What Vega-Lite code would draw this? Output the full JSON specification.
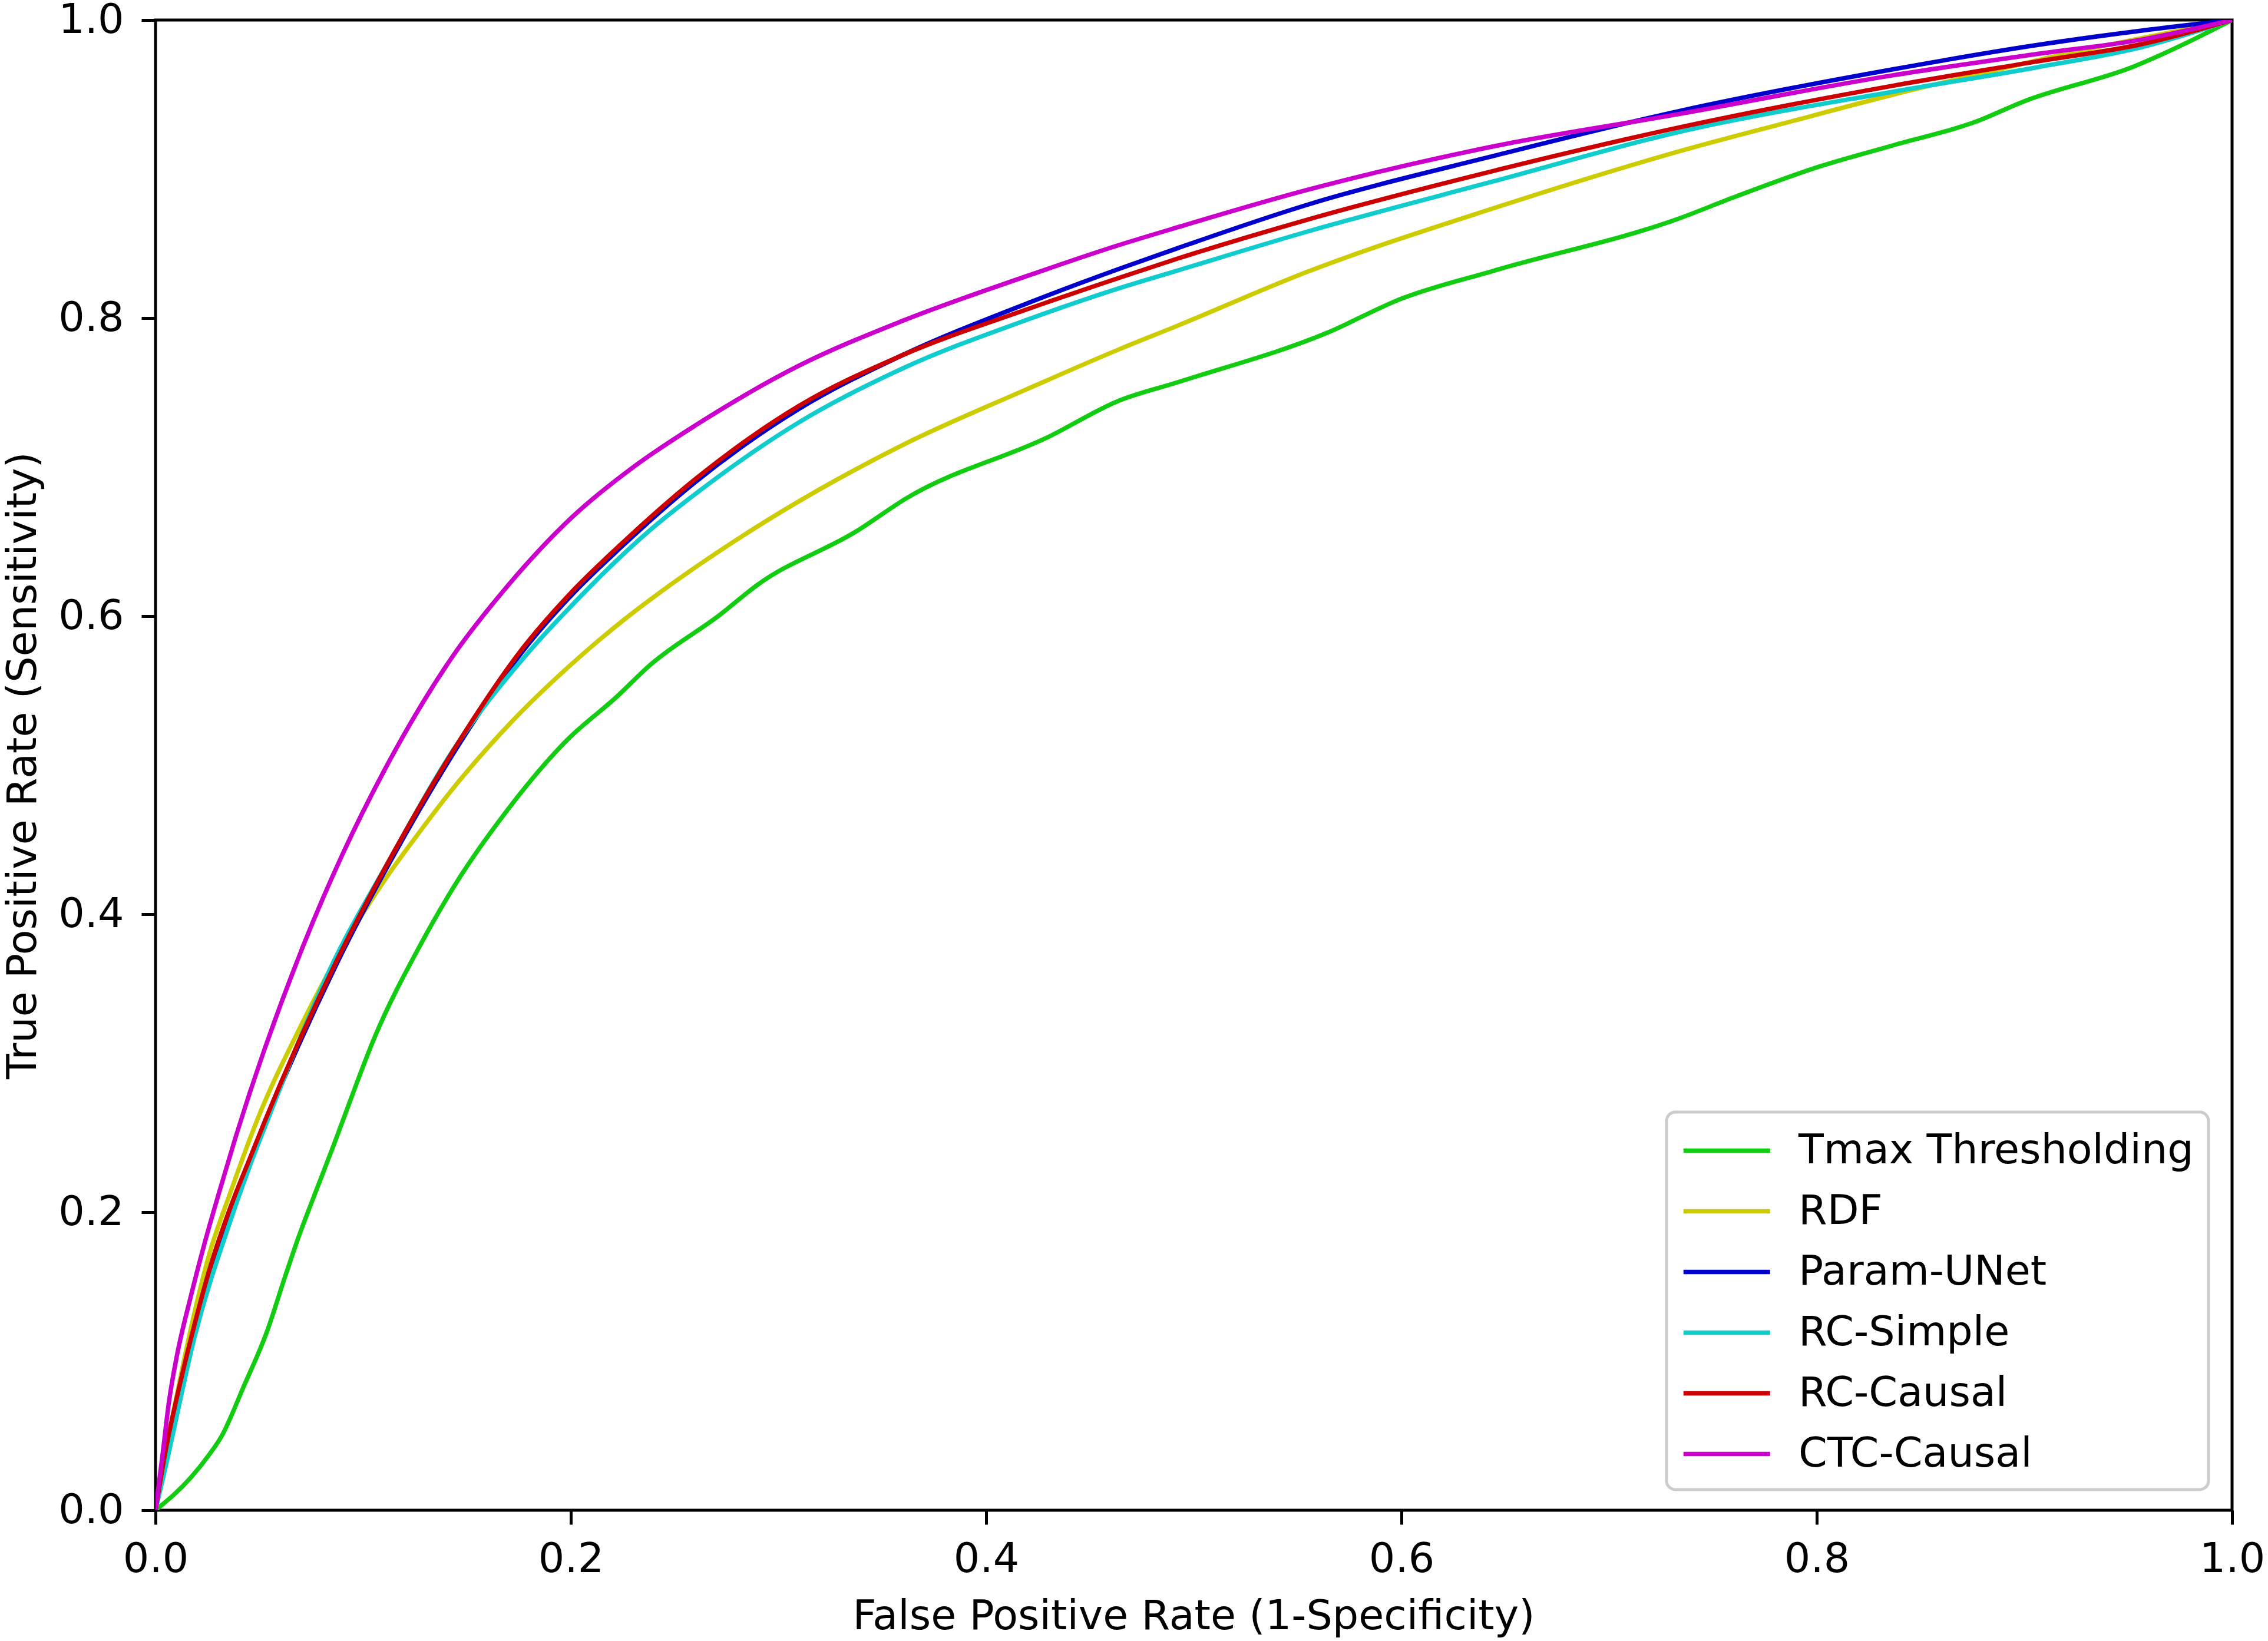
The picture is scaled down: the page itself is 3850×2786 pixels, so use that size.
{
  "$schema": "https://vega.github.io/schema/vega-lite/v6.json",
  "width": 3525,
  "height": 2530,
  "autosize": {"type": "none"},
  "padding": {"left": 264, "top": 34, "right": 61, "bottom": 222},
  "background": "white",
  "config": {
    "view": {"stroke": "black", "strokeWidth": 5},
    "font": "DejaVu Sans",
    "axis": {
      "grid": false,
      "domain": false,
      "tickColor": "black",
      "tickWidth": 5,
      "tickSize": 24,
      "labelFont": "DejaVu Sans",
      "labelFontSize": 70,
      "labelColor": "black",
      "labelFlush": false,
      "labelOverlap": false,
      "titleFont": "DejaVu Sans",
      "titleFontSize": 70,
      "titleFontWeight": "normal",
      "titleColor": "black"
    }
  },
  "data": {
    "values": [
      {"model": "Tmax Thresholding", "fpr": 0, "tpr": 0},
      {"model": "Tmax Thresholding", "fpr": 0.0168, "tpr": 0.0216},
      {"model": "Tmax Thresholding", "fpr": 0.0253, "tpr": 0.0363},
      {"model": "Tmax Thresholding", "fpr": 0.0319, "tpr": 0.0499},
      {"model": "Tmax Thresholding", "fpr": 0.0423, "tpr": 0.0825},
      {"model": "Tmax Thresholding", "fpr": 0.0537, "tpr": 0.12},
      {"model": "Tmax Thresholding", "fpr": 0.0622, "tpr": 0.156},
      {"model": "Tmax Thresholding", "fpr": 0.0688, "tpr": 0.183},
      {"model": "Tmax Thresholding", "fpr": 0.0764, "tpr": 0.211},
      {"model": "Tmax Thresholding", "fpr": 0.0858, "tpr": 0.245},
      {"model": "Tmax Thresholding", "fpr": 0.0906, "tpr": 0.263},
      {"model": "Tmax Thresholding", "fpr": 0.1057, "tpr": 0.318},
      {"model": "Tmax Thresholding", "fpr": 0.1274, "tpr": 0.379},
      {"model": "Tmax Thresholding", "fpr": 0.1462, "tpr": 0.424},
      {"model": "Tmax Thresholding", "fpr": 0.1679, "tpr": 0.467},
      {"model": "Tmax Thresholding", "fpr": 0.1983, "tpr": 0.517},
      {"model": "Tmax Thresholding", "fpr": 0.2222, "tpr": 0.546},
      {"model": "Tmax Thresholding", "fpr": 0.238, "tpr": 0.567},
      {"model": "Tmax Thresholding", "fpr": 0.2719, "tpr": 0.601},
      {"model": "Tmax Thresholding", "fpr": 0.2899, "tpr": 0.621},
      {"model": "Tmax Thresholding", "fpr": 0.3376, "tpr": 0.657},
      {"model": "Tmax Thresholding", "fpr": 0.3615, "tpr": 0.679},
      {"model": "Tmax Thresholding", "fpr": 0.4311, "tpr": 0.721},
      {"model": "Tmax Thresholding", "fpr": 0.463, "tpr": 0.744},
      {"model": "Tmax Thresholding", "fpr": 0.4924, "tpr": 0.757},
      {"model": "Tmax Thresholding", "fpr": 0.564, "tpr": 0.79},
      {"model": "Tmax Thresholding", "fpr": 0.6, "tpr": 0.813},
      {"model": "Tmax Thresholding", "fpr": 0.645, "tpr": 0.832},
      {"model": "Tmax Thresholding", "fpr": 0.734, "tpr": 0.867},
      {"model": "Tmax Thresholding", "fpr": 0.76, "tpr": 0.881},
      {"model": "Tmax Thresholding", "fpr": 0.802, "tpr": 0.902},
      {"model": "Tmax Thresholding", "fpr": 0.837, "tpr": 0.916},
      {"model": "Tmax Thresholding", "fpr": 0.877, "tpr": 0.932},
      {"model": "Tmax Thresholding", "fpr": 0.899, "tpr": 0.945},
      {"model": "Tmax Thresholding", "fpr": 0.953, "tpr": 0.969},
      {"model": "Tmax Thresholding", "fpr": 1, "tpr": 1},

      {"model": "RDF", "fpr": 0, "tpr": 0},
      {"model": "RDF", "fpr": 0.005, "tpr": 0.04},
      {"model": "RDF", "fpr": 0.0114, "tpr": 0.085},
      {"model": "RDF", "fpr": 0.018, "tpr": 0.128},
      {"model": "RDF", "fpr": 0.0255, "tpr": 0.17},
      {"model": "RDF", "fpr": 0.036, "tpr": 0.213},
      {"model": "RDF", "fpr": 0.049, "tpr": 0.262},
      {"model": "RDF", "fpr": 0.07, "tpr": 0.325},
      {"model": "RDF", "fpr": 0.091, "tpr": 0.38},
      {"model": "RDF", "fpr": 0.1129, "tpr": 0.428},
      {"model": "RDF", "fpr": 0.126, "tpr": 0.453},
      {"model": "RDF", "fpr": 0.1419, "tpr": 0.482},
      {"model": "RDF", "fpr": 0.1667, "tpr": 0.522},
      {"model": "RDF", "fpr": 0.207, "tpr": 0.576},
      {"model": "RDF", "fpr": 0.226, "tpr": 0.598},
      {"model": "RDF", "fpr": 0.25, "tpr": 0.623},
      {"model": "RDF", "fpr": 0.284, "tpr": 0.655},
      {"model": "RDF", "fpr": 0.3595, "tpr": 0.7146},
      {"model": "RDF", "fpr": 0.4192, "tpr": 0.752},
      {"model": "RDF", "fpr": 0.464, "tpr": 0.779},
      {"model": "RDF", "fpr": 0.4924, "tpr": 0.795},
      {"model": "RDF", "fpr": 0.5546, "tpr": 0.831},
      {"model": "RDF", "fpr": 0.645, "tpr": 0.874},
      {"model": "RDF", "fpr": 0.734, "tpr": 0.912},
      {"model": "RDF", "fpr": 0.785, "tpr": 0.931},
      {"model": "RDF", "fpr": 0.837, "tpr": 0.95},
      {"model": "RDF", "fpr": 0.888, "tpr": 0.967},
      {"model": "RDF", "fpr": 0.922, "tpr": 0.978},
      {"model": "RDF", "fpr": 0.957, "tpr": 0.988},
      {"model": "RDF", "fpr": 1, "tpr": 1},

      {"model": "Param-UNet", "fpr": 0, "tpr": 0},
      {"model": "Param-UNet", "fpr": 0.0048, "tpr": 0.038},
      {"model": "Param-UNet", "fpr": 0.0114, "tpr": 0.081},
      {"model": "Param-UNet", "fpr": 0.0189, "tpr": 0.124},
      {"model": "Param-UNet", "fpr": 0.0265, "tpr": 0.162},
      {"model": "Param-UNet", "fpr": 0.036, "tpr": 0.201},
      {"model": "Param-UNet", "fpr": 0.0454, "tpr": 0.234},
      {"model": "Param-UNet", "fpr": 0.0529, "tpr": 0.26},
      {"model": "Param-UNet", "fpr": 0.087, "tpr": 0.366},
      {"model": "Param-UNet", "fpr": 0.1129, "tpr": 0.435},
      {"model": "Param-UNet", "fpr": 0.1462, "tpr": 0.514},
      {"model": "Param-UNet", "fpr": 0.1766, "tpr": 0.576},
      {"model": "Param-UNet", "fpr": 0.2003, "tpr": 0.614},
      {"model": "Param-UNet", "fpr": 0.224, "tpr": 0.646},
      {"model": "Param-UNet", "fpr": 0.26, "tpr": 0.69},
      {"model": "Param-UNet", "fpr": 0.3098, "tpr": 0.739},
      {"model": "Param-UNet", "fpr": 0.3595, "tpr": 0.775},
      {"model": "Param-UNet", "fpr": 0.42, "tpr": 0.81},
      {"model": "Param-UNet", "fpr": 0.464, "tpr": 0.833},
      {"model": "Param-UNet", "fpr": 0.4924, "tpr": 0.847},
      {"model": "Param-UNet", "fpr": 0.5546, "tpr": 0.876},
      {"model": "Param-UNet", "fpr": 0.645, "tpr": 0.909},
      {"model": "Param-UNet", "fpr": 0.734, "tpr": 0.939},
      {"model": "Param-UNet", "fpr": 0.837, "tpr": 0.967},
      {"model": "Param-UNet", "fpr": 0.905, "tpr": 0.983},
      {"model": "Param-UNet", "fpr": 0.957, "tpr": 0.993},
      {"model": "Param-UNet", "fpr": 1, "tpr": 1},

      {"model": "RC-Simple", "fpr": 0, "tpr": 0},
      {"model": "RC-Simple", "fpr": 0.005, "tpr": 0.03},
      {"model": "RC-Simple", "fpr": 0.0189, "tpr": 0.1168},
      {"model": "RC-Simple", "fpr": 0.036, "tpr": 0.194},
      {"model": "RC-Simple", "fpr": 0.0454, "tpr": 0.231},
      {"model": "RC-Simple", "fpr": 0.0529, "tpr": 0.258},
      {"model": "RC-Simple", "fpr": 0.084, "tpr": 0.363},
      {"model": "RC-Simple", "fpr": 0.1129, "tpr": 0.437},
      {"model": "RC-Simple", "fpr": 0.1419, "tpr": 0.507},
      {"model": "RC-Simple", "fpr": 0.1804, "tpr": 0.577},
      {"model": "RC-Simple", "fpr": 0.2003, "tpr": 0.607},
      {"model": "RC-Simple", "fpr": 0.2401, "tpr": 0.66},
      {"model": "RC-Simple", "fpr": 0.26, "tpr": 0.682},
      {"model": "RC-Simple", "fpr": 0.3098, "tpr": 0.73},
      {"model": "RC-Simple", "fpr": 0.3595, "tpr": 0.766},
      {"model": "RC-Simple", "fpr": 0.42, "tpr": 0.799},
      {"model": "RC-Simple", "fpr": 0.464, "tpr": 0.82},
      {"model": "RC-Simple", "fpr": 0.4924, "tpr": 0.832},
      {"model": "RC-Simple", "fpr": 0.5546, "tpr": 0.858},
      {"model": "RC-Simple", "fpr": 0.645, "tpr": 0.892},
      {"model": "RC-Simple", "fpr": 0.734, "tpr": 0.925},
      {"model": "RC-Simple", "fpr": 0.837, "tpr": 0.952},
      {"model": "RC-Simple", "fpr": 0.905, "tpr": 0.968},
      {"model": "RC-Simple", "fpr": 0.957, "tpr": 0.982},
      {"model": "RC-Simple", "fpr": 1, "tpr": 1},

      {"model": "RC-Causal", "fpr": 0, "tpr": 0},
      {"model": "RC-Causal", "fpr": 0.0048, "tpr": 0.0396},
      {"model": "RC-Causal", "fpr": 0.0114, "tpr": 0.0825},
      {"model": "RC-Causal", "fpr": 0.0189, "tpr": 0.1253},
      {"model": "RC-Causal", "fpr": 0.0265, "tpr": 0.164},
      {"model": "RC-Causal", "fpr": 0.036, "tpr": 0.203},
      {"model": "RC-Causal", "fpr": 0.0454, "tpr": 0.236},
      {"model": "RC-Causal", "fpr": 0.0529, "tpr": 0.262},
      {"model": "RC-Causal", "fpr": 0.087, "tpr": 0.368},
      {"model": "RC-Causal", "fpr": 0.1129, "tpr": 0.437},
      {"model": "RC-Causal", "fpr": 0.1462, "tpr": 0.516},
      {"model": "RC-Causal", "fpr": 0.1766, "tpr": 0.578},
      {"model": "RC-Causal", "fpr": 0.2003, "tpr": 0.616},
      {"model": "RC-Causal", "fpr": 0.224, "tpr": 0.648},
      {"model": "RC-Causal", "fpr": 0.26, "tpr": 0.692},
      {"model": "RC-Causal", "fpr": 0.3098, "tpr": 0.741},
      {"model": "RC-Causal", "fpr": 0.3595, "tpr": 0.775},
      {"model": "RC-Causal", "fpr": 0.42, "tpr": 0.806},
      {"model": "RC-Causal", "fpr": 0.464, "tpr": 0.827},
      {"model": "RC-Causal", "fpr": 0.4924, "tpr": 0.84},
      {"model": "RC-Causal", "fpr": 0.5546, "tpr": 0.866},
      {"model": "RC-Causal", "fpr": 0.645, "tpr": 0.899},
      {"model": "RC-Causal", "fpr": 0.734, "tpr": 0.928},
      {"model": "RC-Causal", "fpr": 0.837, "tpr": 0.956},
      {"model": "RC-Causal", "fpr": 0.905, "tpr": 0.972},
      {"model": "RC-Causal", "fpr": 0.957, "tpr": 0.984},
      {"model": "RC-Causal", "fpr": 1, "tpr": 1},

      {"model": "CTC-Causal", "fpr": 0, "tpr": 0},
      {"model": "CTC-Causal", "fpr": 0.0036, "tpr": 0.0396},
      {"model": "CTC-Causal", "fpr": 0.0064, "tpr": 0.072},
      {"model": "CTC-Causal", "fpr": 0.0102, "tpr": 0.103},
      {"model": "CTC-Causal", "fpr": 0.0168, "tpr": 0.1424},
      {"model": "CTC-Causal", "fpr": 0.0234, "tpr": 0.178},
      {"model": "CTC-Causal", "fpr": 0.031, "tpr": 0.215},
      {"model": "CTC-Causal", "fpr": 0.0385, "tpr": 0.25},
      {"model": "CTC-Causal", "fpr": 0.0709, "tpr": 0.378},
      {"model": "CTC-Causal", "fpr": 0.09, "tpr": 0.44},
      {"model": "CTC-Causal", "fpr": 0.11, "tpr": 0.496},
      {"model": "CTC-Causal", "fpr": 0.1426, "tpr": 0.572},
      {"model": "CTC-Causal", "fpr": 0.1694, "tpr": 0.62},
      {"model": "CTC-Causal", "fpr": 0.2003, "tpr": 0.666},
      {"model": "CTC-Causal", "fpr": 0.2301, "tpr": 0.7},
      {"model": "CTC-Causal", "fpr": 0.26, "tpr": 0.728},
      {"model": "CTC-Causal", "fpr": 0.3098, "tpr": 0.768},
      {"model": "CTC-Causal", "fpr": 0.3595, "tpr": 0.798},
      {"model": "CTC-Causal", "fpr": 0.4192, "tpr": 0.828},
      {"model": "CTC-Causal", "fpr": 0.464, "tpr": 0.849},
      {"model": "CTC-Causal", "fpr": 0.4924, "tpr": 0.861},
      {"model": "CTC-Causal", "fpr": 0.5546, "tpr": 0.886},
      {"model": "CTC-Causal", "fpr": 0.645, "tpr": 0.9154},
      {"model": "CTC-Causal", "fpr": 0.734, "tpr": 0.937},
      {"model": "CTC-Causal", "fpr": 0.837, "tpr": 0.963},
      {"model": "CTC-Causal", "fpr": 0.905, "tpr": 0.977},
      {"model": "CTC-Causal", "fpr": 0.957, "tpr": 0.987},
      {"model": "CTC-Causal", "fpr": 1, "tpr": 1}
    ]
  },
  "mark": {"type": "line", "strokeWidth": 7.5, "clip": true, "interpolate": "monotone"},
  "encoding": {
    "x": {
      "field": "fpr",
      "type": "quantitative",
      "scale": {"domain": [0, 1], "nice": false, "zero": false},
      "axis": {
        "values": [0, 0.2, 0.4, 0.6, 0.8, 1.0],
        "format": ".1f",
        "labelPadding": 25,
        "title": "False Positive Rate (1-Specificity)",
        "titleBaseline": "alphabetic",
        "titleAnchor": "middle",
        "titleX": 1762,
        "titleY": 201
      }
    },
    "y": {
      "field": "tpr",
      "type": "quantitative",
      "scale": {"domain": [0, 1], "nice": false, "zero": false},
      "axis": {
        "values": [0, 0.2, 0.4, 0.6, 0.8, 1.0],
        "format": ".1f",
        "labelPadding": 30,
        "title": "True Positive Rate (Sensitivity)",
        "titleAngle": -90,
        "titleBaseline": "alphabetic",
        "titleAnchor": "middle",
        "titleAlign": "center",
        "titleX": -204,
        "titleY": 1265
      }
    },
    "color": {
      "field": "model",
      "type": "nominal",
      "sort": null,
      "scale": {
        "domain": ["Tmax Thresholding", "RDF", "Param-UNet", "RC-Simple", "RC-Causal", "CTC-Causal"],
        "range": ["#11cc11", "#cccc00", "#0000cc", "#11cccc", "#cc0000", "#cc00cc"]
      },
      "legend": {
        "title": null,
        "orient": "none",
        "legendX": 2565,
        "legendY": 1854,
        "symbolType": "M-1,0H3",
        "symbolSize": 5402,
        "symbolStrokeWidth": 7.5,
        "labelFont": "DejaVu Sans",
        "labelFontSize": 70,
        "labelColor": "black",
        "labelOffset": 118,
        "labelLimit": 2000,
        "padding": 25,
        "rowPadding": 27,
        "strokeColor": "#cccccc",
        "cornerRadius": 15,
        "fillColor": "rgba(255,255,255,0.8)",
        "encode": {"legend": {"update": {"strokeWidth": {"value": 5}}}}
      }
    }
  }
}
